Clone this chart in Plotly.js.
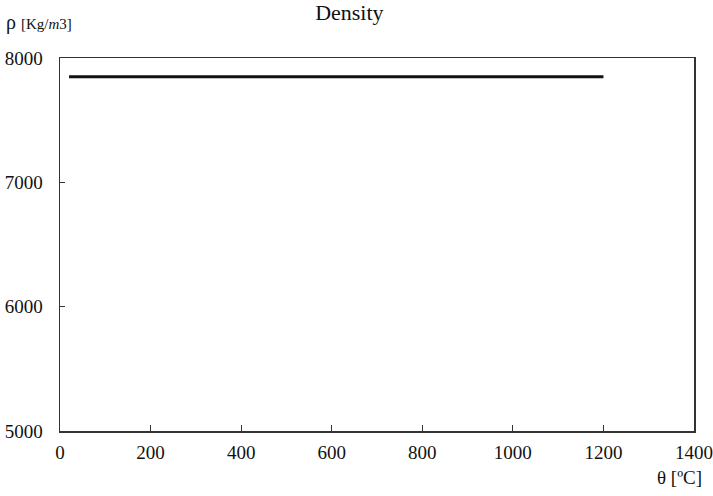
<!DOCTYPE html>
<html>
<head>
<meta charset="utf-8">
<script src="https://cdn.plot.ly/plotly-3.0.1.min.js"></script>
<style>
  html, body { margin: 0; padding: 0; background: #fff; }
  #chart { width: 713px; height: 496px; }
</style>
</head>
<body>
<div id="chart"></div>
<script>
// Steel density versus temperature
const temperature = [20, 1200];      // θ [ºC]
const density = [7850, 7850];        // ρ [Kg/m3]
const xTicks = [0, 200, 400, 600, 800, 1000, 1200, 1400];
const yTicks = [5000, 6000, 7000, 8000];

const serif = 'Liberation Serif';
const ink = '#111';

const trace = {
  x: temperature,
  y: density,
  type: 'scatter',
  mode: 'lines',
  line: { color: '#111', width: 3 },
  hoverinfo: 'skip'
};

const layout = {
  width: 713,
  height: 496,
  margin: { l: 60, r: 19, t: 58, b: 65 },
  paper_bgcolor: '#fff',
  plot_bgcolor: '#fff',
  showlegend: false,
  font: { family: serif, size: 19, color: ink },
  title: {
    text: 'Density',
    xref: 'container',
    font: { family: serif, size: 22, color: ink },
    x: 0.49, xanchor: 'center',
    y: 0.975, yanchor: 'middle'
  },
  xaxis: {
    range: [0, 1400],
    tickvals: xTicks,
    ticktext: xTicks.map(String),
    showgrid: false,
    zeroline: false,
    showline: true,
    linecolor: '#333',
    linewidth: 1.5,
    mirror: true,
    ticks: 'inside',
    ticklen: 6,
    tickcolor: '#333',
    ticklabelstandoff: 4,
    tickfont: { family: serif, size: 19, color: ink }
  },
  yaxis: {
    range: [5000, 8000],
    tickvals: yTicks,
    ticktext: yTicks.map(String),
    showgrid: false,
    zeroline: false,
    showline: true,
    linecolor: '#333',
    linewidth: 1.5,
    mirror: true,
    ticks: 'inside',
    ticklen: 5,
    tickcolor: '#333',
    ticklabelstandoff: 12,
    tickfont: { family: serif, size: 19, color: ink }
  },
  annotations: [
    {
      text: 'ρ <span style="font-size:15px">[Kg/<i>m</i>3]</span>',
      xref: 'paper', yref: 'paper',
      x: -0.089, y: 1.095,
      xanchor: 'left', yanchor: 'middle',
      showarrow: false,
      font: { family: serif, size: 20, color: ink }
    },
    {
      text: 'θ [ºC]',
      xref: 'paper', yref: 'paper',
      x: 1.015, y: -0.125,
      xanchor: 'right', yanchor: 'middle',
      showarrow: false,
      font: { family: serif, size: 19, color: ink }
    }
  ]
};

Plotly.newPlot('chart', [trace], layout, { displayModeBar: false, staticPlot: true });
</script>
</body>
</html>
